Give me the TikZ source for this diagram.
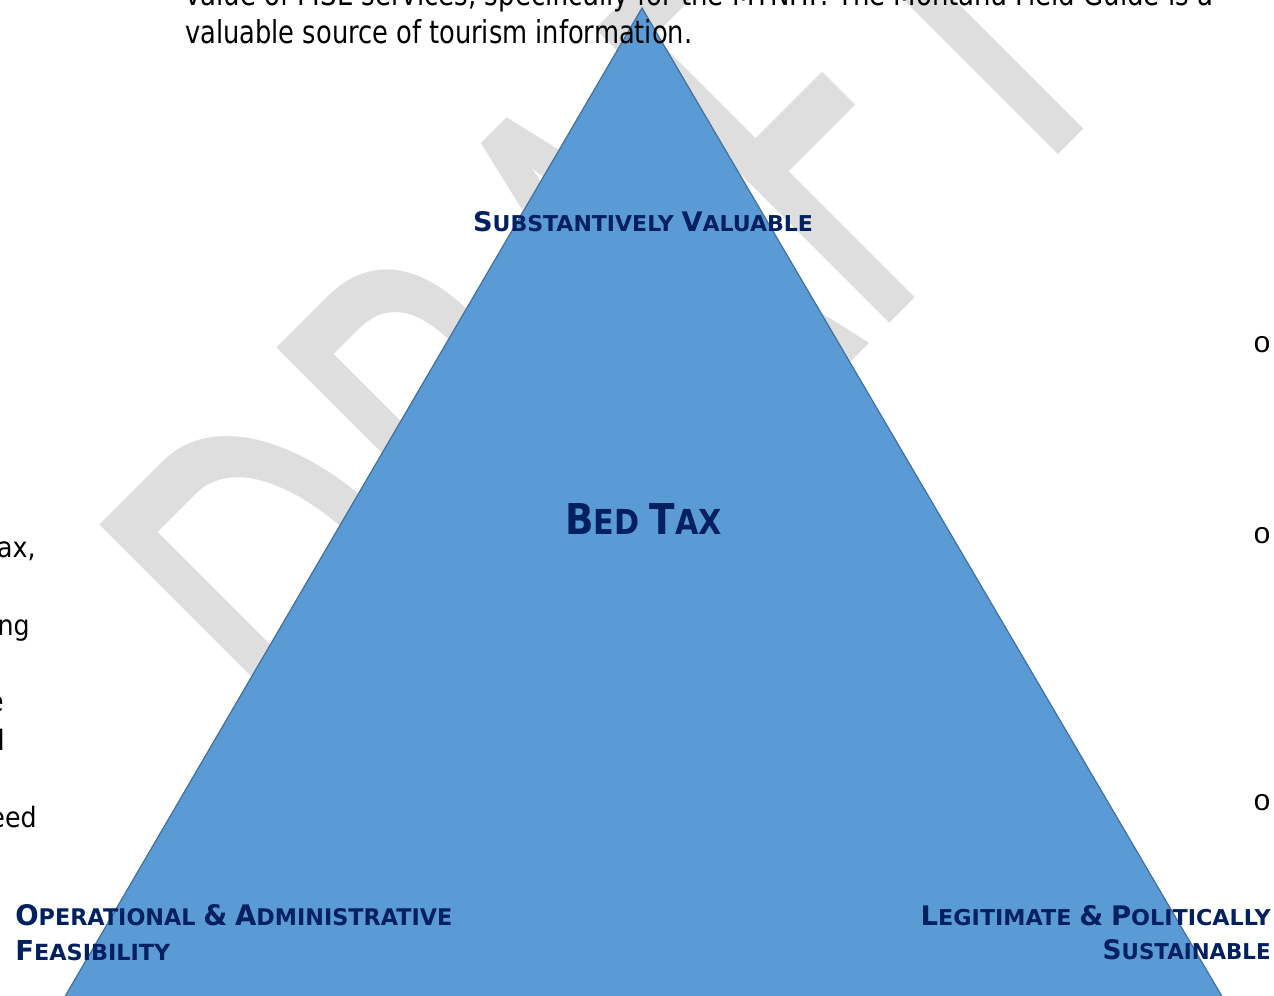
\documentclass[tikz,border=0pt]{standalone}
\usepackage{fontspec}
\newfontfamily\bodyfont{DejaVu Sans Condensed}
\newfontfamily\lblfont{DejaVu Sans}
\newfontfamily\wmfont[FakeStretch=0.623]{Carlito}
\newfontfamily\bulfont{Liberation Mono}
\definecolor{triblue}{RGB}{91,155,213}
\definecolor{triedge}{RGB}{65,113,156}
\definecolor{navy}{RGB}{0,32,96}
\definecolor{wmgray}{RGB}{222,222,222}
\newcommand\scw[2]{{\fontsize{20}{20}\selectfont #1}{\fontsize{16.2}{16.2}\selectfont #2}}

\begin{document}
\begin{tikzpicture}[x=0.02cm,y=-0.02cm,
                    lbl/.style={inner sep=0,text=navy,font=\lblfont\bfseries\fontsize{16.2}{16.2}\selectfont},
                    body/.style={inner sep=0,font=\bodyfont\fontsize{16}{16}\selectfont},
                    bul/.style={inner sep=0,font=\bulfont\fontsize{17}{17}\selectfont}]
\useasboundingbox (0,0) rectangle (1274,996);
\clip (0,0) rectangle (1274,996);

\node[inner sep=0,anchor=base west,rotate=45,text=wmgray,font=\wmfont\fontsize{369}{369}\selectfont] (wm) at (374.5,838.5) {DRAFT};

\filldraw[fill=triblue,draw=triedge,line width=0.7pt] (642,8) -- (60,1005) -- (1227,1005) -- cycle;

\node[body,anchor=base west] (l1) at (185,6) {\resizebox{20.56cm}{0.48cm}{value of FISE services, specifically for the MTNHP. The Montana Field Guide is a}};
\node[body,anchor=base west] (l2) at (185,44) {\resizebox{10.14cm}{0.48cm}{valuable source of tourism information.}};

\node[body,anchor=base east] (p1) at (36,557) {ax,};
\node[body,anchor=base east] (p2) at (30,635) {ng};
\node[body,anchor=base east] (p3) at (4,711) {e};
\node[body,anchor=base east] (p4) at (5,750) {d};
\node[body,anchor=base east] (p5) at (37,827) {eed};

\node[bul] (b1) at (1262,345) {o};
\node[bul] (b2) at (1262,536) {o};
\node[bul] (b3) at (1262,803) {o};

\node[lbl,anchor=base] (sv) at (643,232) {\resizebox{6.8cm}{0.4cm}{\scw{S}{UBSTANTIVELY} \scw{V}{ALUABLE}}};
\node[lbl,anchor=base] (bt) at (643.5,534) {\resizebox{3.14cm}{0.62cm}{\scw{B}{ED} \scw{T}{AX}}};
\node[lbl,anchor=base west] (oa1) at (15,925) {\resizebox{8.74cm}{0.42cm}{\scw{O}{PERATIONAL} \scw{\&}{} \scw{A}{DMINISTRATIVE}}};
\node[lbl,anchor=base west] (oa2) at (15,960) {\resizebox{3.1cm}{0.4cm}{\scw{F}{EASIBILITY}}};
\node[lbl,anchor=base east] (lp1) at (1271,925) {\resizebox{7cm}{0.4cm}{\scw{L}{EGITIMATE} \scw{\&}{} \scw{P}{OLITICALLY}}};
\node[lbl,anchor=base east] (lp2) at (1271,959) {\resizebox{3.36cm}{0.4cm}{\scw{S}{USTAINABLE}}};

\end{tikzpicture}
\end{document}
